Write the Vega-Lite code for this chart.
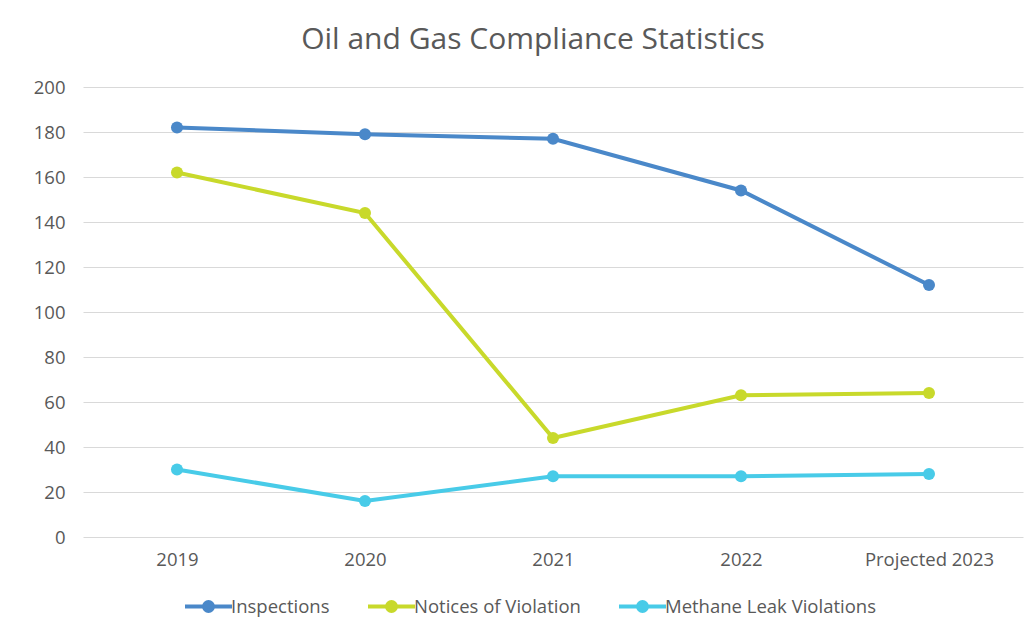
{
  "$schema": "https://vega.github.io/schema/vega-lite/v6.json",
  "width": 940,
  "height": 450,
  "autosize": {"type": "none"},
  "padding": {"left": 83, "top": 87, "right": 13, "bottom": 95},
  "background": "white",
  "config": {"view": {"stroke": null}},
  "title": {
    "text": "Oil and Gas Compliance Statistics",
    "font": "Open Sans",
    "fontSize": 30,
    "fontWeight": "normal",
    "color": "#595959",
    "anchor": "middle",
    "baseline": "alphabetic",
    "offset": -1,
    "dx": -20
  },
  "data": {
    "values": [
      {"Year": "2019", "Series": "Inspections", "Value": 182},
      {"Year": "2020", "Series": "Inspections", "Value": 179},
      {"Year": "2021", "Series": "Inspections", "Value": 177},
      {"Year": "2022", "Series": "Inspections", "Value": 154},
      {"Year": "Projected 2023", "Series": "Inspections", "Value": 112},
      {"Year": "2019", "Series": "Notices of Violation", "Value": 162},
      {"Year": "2020", "Series": "Notices of Violation", "Value": 144},
      {"Year": "2021", "Series": "Notices of Violation", "Value": 44},
      {"Year": "2022", "Series": "Notices of Violation", "Value": 63},
      {"Year": "Projected 2023", "Series": "Notices of Violation", "Value": 64},
      {"Year": "2019", "Series": "Methane Leak Violations", "Value": 30},
      {"Year": "2020", "Series": "Methane Leak Violations", "Value": 16},
      {"Year": "2021", "Series": "Methane Leak Violations", "Value": 27},
      {"Year": "2022", "Series": "Methane Leak Violations", "Value": 27},
      {"Year": "Projected 2023", "Series": "Methane Leak Violations", "Value": 28}
    ]
  },
  "encoding": {
    "x": {
      "field": "Year",
      "type": "ordinal",
      "sort": null,
      "scale": {"type": "point", "padding": 0.5},
      "axis": {
        "title": null,
        "labelAngle": 0,
        "labelFont": "Open Sans",
        "labelFontSize": 18.5,
        "labelColor": "#595959",
        "labelPadding": 13,
        "ticks": false,
        "domain": false,
        "grid": false
      }
    },
    "y": {
      "field": "Value",
      "type": "quantitative",
      "scale": {"domain": [0, 200], "nice": false},
      "axis": {
        "title": null,
        "values": [0, 20, 40, 60, 80, 100, 120, 140, 160, 180, 200],
        "labelFont": "Open Sans",
        "labelFontSize": 18.5,
        "labelColor": "#595959",
        "labelPadding": 18,
        "ticks": false,
        "domain": false,
        "grid": true,
        "gridColor": "#d9d9d9",
        "gridWidth": 1.2
      }
    },
    "color": {
      "field": "Series",
      "type": "nominal",
      "sort": ["Inspections", "Notices of Violation", "Methane Leak Violations"],
      "scale": {
        "domain": ["Inspections", "Notices of Violation", "Methane Leak Violations"],
        "range": ["#4a88c9", "#c8d92b", "#48cbe8"]
      },
      "legend": {
        "title": null,
        "orient": "none",
        "direction": "horizontal",
        "legendX": 100,
        "legendY": 494,
        "labelFont": "Open Sans",
        "labelFontSize": 18.5,
        "labelColor": "#595959",
        "labelLimit": 400,
        "labelOffset": -3,
        "columnPadding": 30,
        "symbolType": "M-1,0L1,0M-0.19,0A0.19,0.19,0,1,1,0.19,0A0.19,0.19,0,1,1,-0.19,0",
        "symbolSize": 2209,
        "symbolStrokeWidth": 4
      }
    }
  },
  "layer": [
    {"mark": {"type": "line", "strokeWidth": 4}},
    {"mark": {"type": "point", "filled": true, "size": 145, "opacity": 1}}
  ]
}
